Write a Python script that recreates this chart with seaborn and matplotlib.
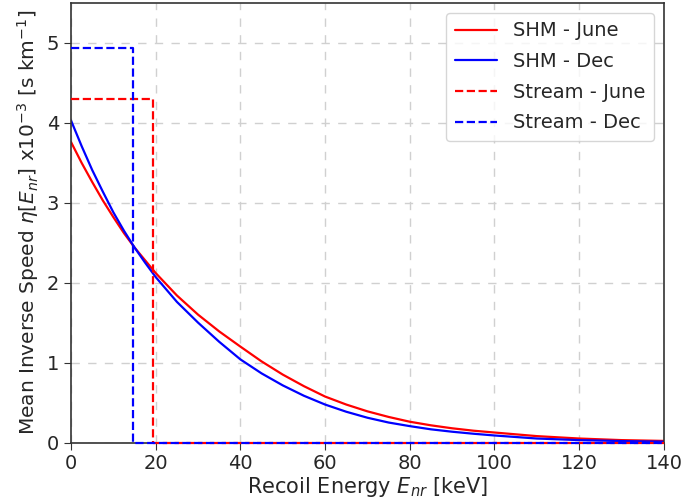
import matplotlib
matplotlib.use("Agg")
import matplotlib.pyplot as plt
import seaborn as sns
import pandas as pd

# Recoil energies (keV) at which the SHM mean inverse speed is tabulated
energy = [0, 2.5, 5, 7.5, 10, 12.5, 15, 17.5, 20, 25, 30, 35, 40, 45, 50,
          55, 60, 65, 70, 75, 80, 85, 90, 95, 100, 110, 120, 130, 140]
shm_june = [3.76, 3.50, 3.26, 3.03, 2.82, 2.62, 2.44, 2.28, 2.12, 1.84,
            1.60, 1.39, 1.20, 1.015, 0.85, 0.705, 0.575, 0.475, 0.39, 0.32,
            0.26, 0.215, 0.178, 0.148, 0.125, 0.08, 0.05, 0.03, 0.02]
shm_dec = [4.03, 3.71, 3.41, 3.14, 2.88, 2.65, 2.44, 2.25, 2.07, 1.76,
           1.50, 1.26, 1.04, 0.865, 0.715, 0.585, 0.475, 0.385, 0.31, 0.25,
           0.205, 0.165, 0.135, 0.11, 0.088, 0.05, 0.03, 0.018, 0.01]

# Stream contributions: flat plateau up to a cutoff energy, zero above it
stream_june_level = 4.30
stream_june_cut = 19.4
stream_dec_level = 4.94
stream_dec_cut = 14.7
e_max = 140

x_ticks = [0, 20, 40, 60, 80, 100, 120, 140]
y_ticks = [0, 1, 2, 3, 4, 5]

sns.set_style("ticks")
plt.rcParams["font.family"] = ["DejaVu Sans"]

fig = plt.figure(figsize=(6.83, 5.04), dpi=100)
ax = fig.add_axes([0.104, 0.122, 0.868, 0.872])

shm = pd.DataFrame({"E": energy, "june": shm_june, "dec": shm_dec})
sj = pd.DataFrame({"E": [0, stream_june_cut, stream_june_cut, e_max],
                   "v": [stream_june_level, stream_june_level, 0, 0]})
sd = pd.DataFrame({"E": [0, stream_dec_cut, stream_dec_cut, e_max],
                   "v": [stream_dec_level, stream_dec_level, 0, 0]})

sns.lineplot(data=shm, x="E", y="june", color="red", lw=1.6,
             label="SHM - June", ax=ax)
sns.lineplot(data=shm, x="E", y="dec", color="blue", lw=1.6,
             label="SHM - Dec", ax=ax)
sns.lineplot(data=sj, x="E", y="v", color="red", lw=1.6, ls="--",
             sort=False, estimator=None, label="Stream - June", ax=ax,
             clip_on=False, zorder=3)
sns.lineplot(data=sd, x="E", y="v", color="blue", lw=1.6, ls="--",
             sort=False, estimator=None, label="Stream - Dec", ax=ax,
             clip_on=False, zorder=3)

ax.set_xlim(0, 140)
ax.set_ylim(0, 5.5)
ax.set_xticks(x_ticks)
ax.set_yticks(y_ticks)
ax.tick_params(labelsize=14, length=5, color="#333333")
for s in ax.spines.values():
    s.set_color("#333333")
    s.set_linewidth(1.2)
ax.grid(True, ls=(0, (6, 6)), color="#d0d0d0", lw=1)
ax.set_axisbelow(True)

ax.set_xlabel(r"Recoil Energy $E_{nr}$ [keV]", fontsize=15, labelpad=1)
ax.set_ylabel(r"Mean Inverse Speed $\eta[E_{nr}]$ x10$^{-3}$ [s km$^{-1}$]",
              fontsize=14.5, labelpad=4)

ax.legend(loc="upper right", fontsize=14, frameon=True, handlelength=2.2,
          handletextpad=0.8, borderpad=0.45, labelspacing=0.6)

fig.savefig("out.png", dpi=100)
